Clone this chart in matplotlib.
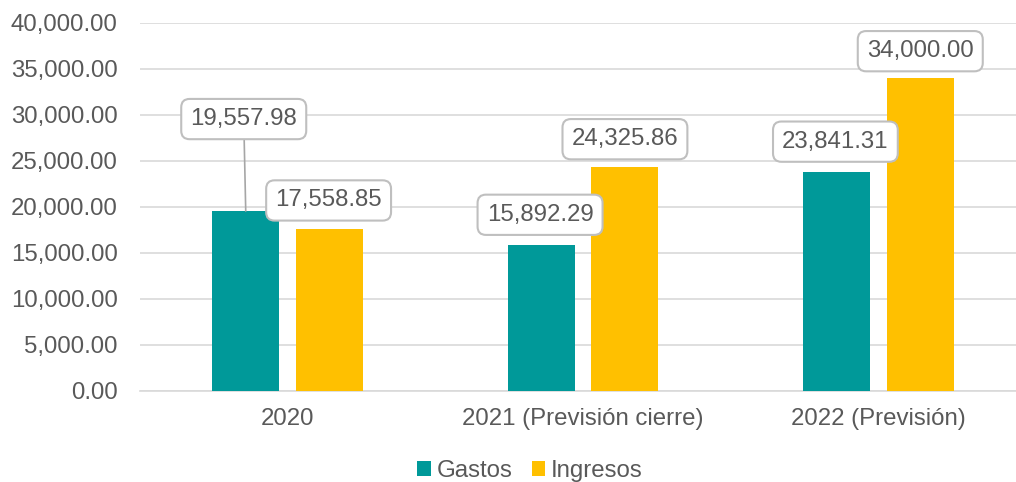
import numpy as np
import matplotlib
matplotlib.use('Agg')
import matplotlib.pyplot as plt
from matplotlib.ticker import FuncFormatter

plt.rcParams['font.family'] = ['Liberation Sans', 'DejaVu Sans']

categorias = ['2020', '2021 (Previsión cierre)', '2022 (Previsión)']
gastos = [19557.98, 15892.29, 23841.31]
ingresos = [17558.85, 24325.86, 34000.00]

TEAL = '#009999'
YELLOW = '#FFC000'
GRIS = '#595959'

fig = plt.figure(figsize=(10.16, 4.82), dpi=100)
ax = fig.add_axes([0.1378, 0.1888, 1026 / 1016 - 0.1378, 0.9523 - 0.1888])

x = np.arange(len(categorias))
w = 0.227
off = 0.142
b1 = ax.bar(x - off, gastos, w, color=TEAL, label='Gastos', zorder=3)
b2 = ax.bar(x + off, ingresos, w, color=YELLOW, label='Ingresos', zorder=3)

ax.set_xlim(-0.5, 2.5)
ax.set_ylim(0, 40000)
ax.set_yticks(np.arange(0, 40001, 5000))
ax.yaxis.set_major_formatter(FuncFormatter(lambda v, p: '{:,.2f}'.format(v)))
ax.set_xticks(x)
ax.set_xticklabels(categorias)
ax.tick_params(axis='both', length=0, labelsize=17.3, colors=GRIS)
ax.tick_params(axis='y', pad=16)
ax.tick_params(axis='x', pad=12)
ax.grid(axis='y', color='#D9D9D9', linewidth=1.2, zorder=0)
for s in ['top', 'right', 'left']:
    ax.spines[s].set_visible(False)
ax.spines['bottom'].set_color('#D9D9D9')
ax.spines['bottom'].set_linewidth(1.2)

caja = dict(boxstyle='round,pad=0.38,rounding_size=0.35', fc='white', ec='#BFBFBF', lw=1.5)

# offsets (pixels) of each label from bar top
desp_g = [(-2, 92), (-1, 30), (-1, 30)]
desp_i = [(-1, 29), (0, 28), (0, 27)]

for i in range(len(categorias)):
    for xi, val, d in [(x[i] - off, gastos[i], desp_g[i]), (x[i] + off, ingresos[i], desp_i[i])]:
        kw = {}
        if d[1] > 50:
            kw['arrowprops'] = dict(arrowstyle='-', color='#A6A6A6', lw=1.2, shrinkA=0, shrinkB=0)
        ax.annotate('{:,.2f}'.format(val), xy=(xi, val), xytext=d, textcoords='offset pixels',
                    ha='center', va='center', fontsize=17.3, color=GRIS, bbox=caja, zorder=5, **kw)

fig.legend(handles=[b1, b2], labels=['Gastos', 'Ingresos'], loc='lower center',
           bbox_to_anchor=(530 / 1016, -0.045), ncol=2, frameon=False, fontsize=17.3,
           handlelength=0.55, handleheight=0.55, handletextpad=0.25, columnspacing=0.8,
           labelcolor=GRIS)

fig.savefig('out.png', dpi=100)
